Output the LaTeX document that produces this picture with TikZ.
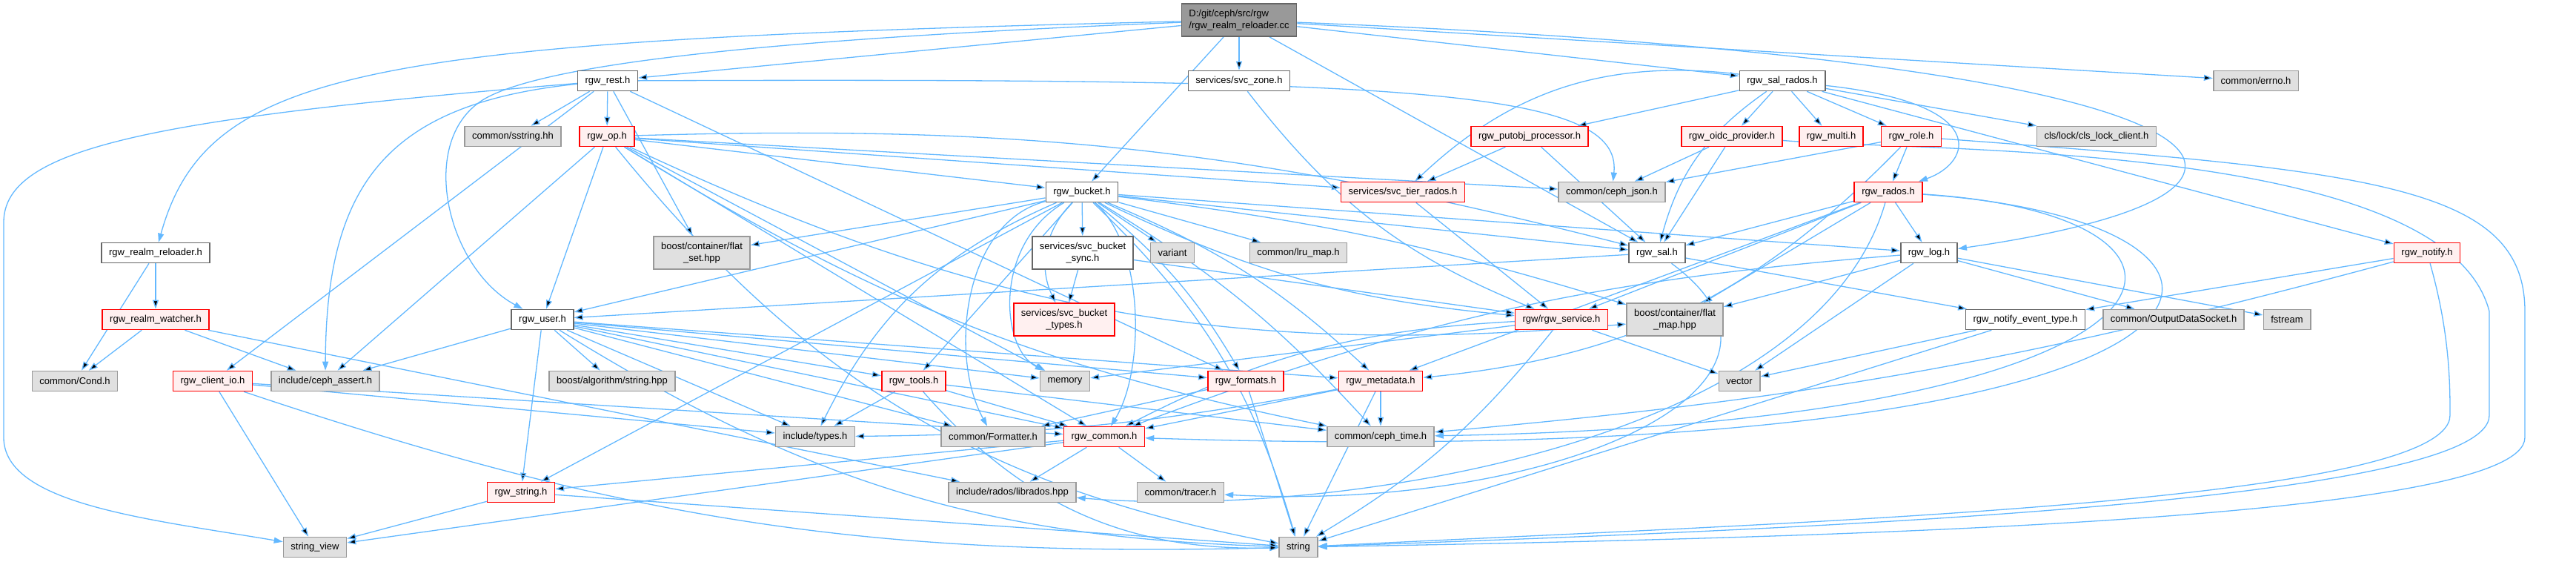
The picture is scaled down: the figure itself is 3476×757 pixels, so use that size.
\documentclass[tikz,border=0pt]{standalone}
\usepackage{fontspec}
\setmainfont{Liberation Sans}
\usetikzlibrary{arrows.meta,backgrounds}
\definecolor{depblue}{RGB}{99,184,255}
\definecolor{extgray}{RGB}{224,224,224}
\definecolor{extline}{RGB}{153,153,153}
\definecolor{docline}{RGB}{102,102,102}
\definecolor{cutfill}{RGB}{255,240,240}
\definecolor{rootfill}{RGB}{153,153,153}
\tikzset{
  file/.style={draw=docline,fill=white,line width=0.8pt,minimum height=13.5pt,
               inner xsep=5pt,inner ysep=1pt,align=center,font=\fontsize{6.5}{8.3}\selectfont},
  extern/.style={file,draw=extline,fill=extgray},
  cut/.style={file,draw=red,fill=cutfill},
  srcfile/.style={file,fill=rootfill,align=left},
  twoline/.style={minimum height=22pt},
  dep/.style={draw=depblue,line width=0.65pt,-{Triangle[length=6pt,width=4pt]}},
}
\begin{document}
\begin{tikzpicture}[x=0.5pt,y=-0.5pt]
  \useasboundingbox (0,0) rectangle (3476,757);

  % files, row by row
  \node[srcfile,twoline] (cc) at (1672,27) {D:/git/ceph/src/rgw\\/rgw\_realm\_reloader.cc};

  \node[file]   (rest)     at (820,109)  {rgw\_rest.h};
  \node[file]   (svczone)  at (1672,109) {services/svc\_zone.h};
  \node[file]   (salrados) at (2405,109) {rgw\_sal\_rados.h};
  \node[extern] (errno)    at (3044,109) {common/errno.h};

  \node[extern] (sstring)  at (692,184)  {common/sstring.hh};
  \node[cut]    (op)       at (819,184)  {rgw\_op.h};
  \node[cut]    (putobj)   at (2064,184) {rgw\_putobj\_processor.h};
  \node[cut]    (oidc)     at (2337,184) {rgw\_oidc\_provider.h};
  \node[cut]    (multi)    at (2471,184) {rgw\_multi.h};
  \node[cut]    (role)     at (2579,184) {rgw\_role.h};
  \node[extern] (clslock)  at (2829,184) {cls/lock/cls\_lock\_client.h};

  \node[file]   (bucket)   at (1460,259) {rgw\_bucket.h};
  \node[cut]    (tier)     at (1893,259) {services/svc\_tier\_rados.h};
  \node[extern] (json)     at (2175,259) {common/ceph\_json.h};
  \node[cut]    (rados)    at (2548,259) {rgw\_rados.h};

  \node[file]           (reloader) at (210,341)  {rgw\_realm\_reloader.h};
  \node[extern,twoline] (flatset)  at (947,341)  {boost/container/flat\\\_set.hpp};
  \node[file,twoline]   (bsync)    at (1461,341) {services/svc\_bucket\\\_sync.h};
  \node[extern]         (variant)  at (1582,341) {variant};
  \node[extern]         (lru)      at (1752,341) {common/lru\_map.h};
  \node[file]           (sal)      at (2236,341) {rgw\_sal.h};
  \node[file]           (log)      at (2603,341) {rgw\_log.h};
  \node[cut]            (notify)   at (3275,341) {rgw\_notify.h};

  \node[cut]            (watcher)  at (210,431)  {rgw\_realm\_watcher.h};
  \node[file]           (user)     at (732,431)  {rgw\_user.h};
  \node[cut,twoline]    (btypes)   at (1436,431) {services/svc\_bucket\\\_types.h};
  \node[cut]            (service)  at (2107,431) {rgw/rgw\_service.h};
  \node[extern,twoline] (flatmap)  at (2260,431) {boost/container/flat\\\_map.hpp};
  \node[file]           (evtype)   at (2733,431) {rgw\_notify\_event\_type.h};
  \node[extern]         (ods)      at (2933,431) {common/OutputDataSocket.h};
  \node[extern]         (fstream)  at (3086,431) {fstream};

  \node[extern] (cond)      at (101,514)  {common/Cond.h};
  \node[cut]    (clientio)  at (287,514)  {rgw\_client\_io.h};
  \node[extern] (assert)    at (439,514)  {include/ceph\_assert.h};
  \node[extern] (boostalg)  at (826,514)  {boost/algorithm/string.hpp};
  \node[cut]    (tools)     at (1233,514) {rgw\_tools.h};
  \node[extern] (memory)    at (1437,514) {memory};
  \node[cut]    (formats)   at (1681,514) {rgw\_formats.h};
  \node[cut]    (metadata)  at (1863,514) {rgw\_metadata.h};
  \node[extern] (vector)    at (2347,514) {vector};

  \node[extern] (types)     at (1100,589) {include/types.h};
  \node[extern] (formatter) at (1340,589) {common/Formatter.h};
  \node[cut]    (common)    at (1490,589) {rgw\_common.h};
  \node[extern] (cephtime)  at (1863,589) {common/ceph\_time.h};

  \node[cut]    (rstring)   at (703,664)  {rgw\_string.h};
  \node[extern] (librados)  at (1366,664) {include/rados/librados.hpp};
  \node[extern] (tracer)    at (1593,664) {common/tracer.h};

  \node[extern] (strview)   at (425,738)  {string\_view};
  \node[extern] (string)    at (1752,738) {string};

  % includes
  \begin{scope}[on background layer]
    \path[dep] (cc) edge (svczone) edge (bucket) edge (sal) edge (salrados) edge (errno) edge (rest);
    \draw[dep] (cc) .. controls (500,55) and (280,90) .. (reloader);
    \draw[dep] (cc) .. controls (1100,50) and (760,80) .. (660,130)
      .. controls (560,180) and (600,360) .. (user);
    \draw[dep] (cc) .. controls (2500,60) and (2900,130) .. (2945,210)
      .. controls (2980,280) and (2750,320) .. (log);

    \path[dep] (reloader) edge (watcher) edge (cond);
    \path[dep] (watcher) edge (cond) edge (assert) edge (librados);

    \path[dep] (rest) edge (sstring) edge (op) edge (flatset) edge (clientio) edge (formats);
    \draw[dep] (rest) .. controls (520,140) and (440,250) .. (assert);
    \draw[dep] (rest) .. controls (1900,105) and (2190,120) .. (json);
    \draw[dep] (rest) .. controls (200,160) and (5,200) .. (5,300) -- (5,590)
      .. controls (5,680) and (200,700) .. (strview);

    \path[dep] (op) edge (bucket) edge (tier) edge (json) edge[bend left=8] (sal) edge (user)
      edge (assert) edge (memory) edge[bend right=20] (string) edge (common)
      edge[bend right=10] (cephtime) edge[bend right=15] (flatmap);

    \path[dep] (user) edge (assert) edge (boostalg) edge[bend right=15] (string) edge (memory)
      edge (types) edge (formatter) edge (common) edge (tools) edge (rstring) edge (formats)
      edge (metadata);

    \path[dep] (bucket) edge (bsync) edge (variant) edge (lru) edge[bend right=35] (btypes)
      edge[bend left=15] (string) edge[bend left=5] (flatmap) edge (flatset)
      edge[bend right=20] (types) edge (tools) edge[bend left=10] (metadata) edge (rstring)
      edge (sal) edge[bend left=8] (cephtime) edge[bend left=10] (formats)
      edge[bend right=10] (service) edge (user) edge (log);
    \draw[dep] (bucket) .. controls (1340,330) and (1350,470) .. (memory);
    \draw[dep] (bucket) .. controls (1545,330) and (1545,500) .. (common);
    \draw[dep] (bucket) .. controls (1300,300) and (1280,480) .. (formatter);

    \path[dep] (bsync) edge (btypes) edge (service);
    \path[dep] (svczone) edge[bend right=15] (service);
    \path[dep] (tier) edge (service);

    \path[dep] (salrados) edge (putobj) edge (oidc) edge (multi) edge (role) edge (clslock)
      edge (notify) edge[bend right=20] (sal) edge[bend right=25] (tier);
    \draw[dep] (salrados) .. controls (2690,140) and (2660,220) .. (rados);

    \path[dep] (putobj) edge (tier) edge (sal);
    \path[dep] (oidc) edge (json) edge (sal);
    \path[dep] (role) edge (json) edge (rados) edge[bend left=20] (metadata);
    \draw[dep] (oidc) .. controls (2600,205) and (3300,190) .. (3359,420)
      -- (3359,560) .. controls (3359,680) and (2400,715) .. (string);
    \draw[dep] (role) .. controls (3200,230) and (3407,250) .. (3407,420)
      -- (3407,590) .. controls (3407,700) and (2500,725) .. (string);
    \draw[dep] (notify) .. controls (3306,450) and (3306,520) .. (3306,560)
      .. controls (3306,680) and (2400,705) .. (string);

    \path[dep] (rados) edge (log) edge (sal) edge (flatmap) edge (service) edge (metadata);
    \draw[dep] (rados) .. controls (3150,300) and (3100,640) .. (common);
    \draw[dep] (rados) .. controls (3050,290) and (3000,570) .. (cephtime);
    \draw[dep] (rados) .. controls (2450,600) and (1800,700) .. (librados);

    \path[dep] (sal) edge (user) edge (evtype);
    \draw[dep] (sal) .. controls (2480,520) and (2100,690) .. (tracer);

    \path[dep] (log) edge (flatmap) edge (ods) edge (vector) edge (fstream) edge[bend right=8] (common);
    \path[dep] (notify) edge (evtype) edge[bend left=5] (cephtime);
    \path[dep] (evtype) edge (vector) edge (string);
    \path[dep] (service) edge[bend left=10] (string) edge (vector) edge (memory) edge[bend right=12] (common);
    \path[dep] (metadata) edge[bend left=5] (types) edge (common) edge (cephtime) edge (string);
    \path[dep] (formats) edge (formatter) edge (string);
    \path[dep] (tools) edge (types) edge[bend right=25] (string) edge (common) edge (cephtime);
    \path[dep] (common) edge (rstring) edge (librados) edge (tracer) edge (strview);
    \path[dep] (rstring) edge (strview) edge (string);
    \path[dep] (clientio) edge (types) edge (common) edge[bend right=10] (string) edge (strview);
  \end{scope}
\end{tikzpicture}
\end{document}
